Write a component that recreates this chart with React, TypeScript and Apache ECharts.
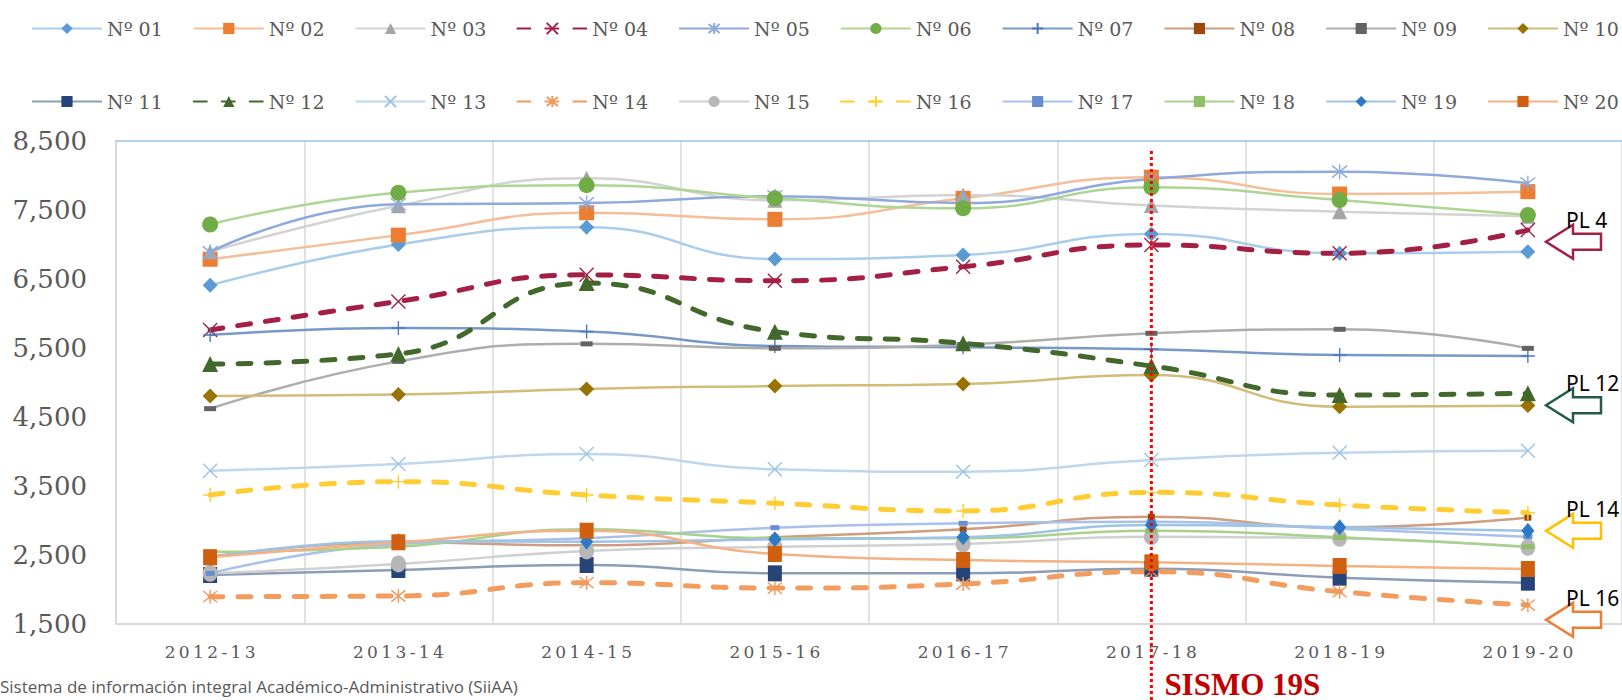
import React, { useEffect, useRef } from "react";
import * as echarts from "echarts";

const years = ["2012-13", "2013-14", "2014-15", "2015-16", "2016-17", "2017-18", "2018-19", "2019-20"];

const names = ["Nº 01", "Nº 02", "Nº 03", "Nº 04", "Nº 05", "Nº 06", "Nº 07", "Nº 08", "Nº 09", "Nº 10",
  "Nº 11", "Nº 12", "Nº 13", "Nº 14", "Nº 15", "Nº 16", "Nº 17", "Nº 18", "Nº 19", "Nº 20"];

const s01 = [6408, 7000, 7250, 6790, 6848, 7152, 6872, 6896];
const s02 = [6786, 7136, 7460, 7365, 7669, 7975, 7732, 7766];
const s03 = [6893, 7563, 7960, 7640, 7717, 7565, 7476, 7410];
const s04 = [5762, 6175, 6560, 6475, 6678, 6993, 6872, 7210];
const s05 = [6890, 7583, 7600, 7700, 7601, 7950, 8056, 7887];
const s06 = [7290, 7750, 7860, 7669, 7524, 7829, 7645, 7428];
const s07 = [5689, 5790, 5738, 5530, 5510, 5481, 5399, 5384];
const s08 = [2473, 2680, 2640, 2756, 2872, 3055, 2901, 3041];
const s09 = [4621, 5306, 5560, 5495, 5550, 5713, 5771, 5495];
const s10 = [4806, 4825, 4907, 4949, 4978, 5109, 4650, 4665];
const s11 = [2210, 2283, 2355, 2234, 2234, 2300, 2171, 2099];
const s12 = [5267, 5413, 6441, 5736, 5568, 5239, 4819, 4843];
const s13 = [3722, 3819, 3964, 3742, 3707, 3877, 3983, 4012];
const s14 = [1896, 1906, 2099, 2020, 2080, 2258, 1968, 1775];
const s15 = [2234, 2370, 2558, 2620, 2659, 2765, 2741, 2611];
const s16 = [3370, 3563, 3370, 3250, 3138, 3408, 3225, 3113];
const s17 = [2234, 2660, 2741, 2896, 2959, 2983, 2880, 2765];
const s18 = [2548, 2620, 2872, 2741, 2741, 2852, 2756, 2620];
const s19 = [2460, 2700, 2693, 2727, 2756, 2935, 2901, 2852];
const s20 = [2466, 2684, 2852, 2514, 2428, 2394, 2341, 2297];

const values = [s01, s02, s03, s04, s05, s06, s07, s08, s09, s10, s11, s12, s13, s14, s15, s16, s17, s18, s19, s20];

const yTicks = { min: 1500, max: 8500, interval: 1000 };

const quakeYear = "2017-18";
const quakeLabel = "SISMO 19S";
const sourceText = "Sistema de información integral Académico-Administrativo (SiiAA)";

const arrowLabels = ["PL 4", "PL 12", "PL 14", "PL 16"];
const arrowValues = [7040, 4670, 2850, 1560];
const arrowColors = ["#A31F44", "#245A4A", "#FFC000", "#ED7D31"];

const SERIF = "'DejaVu Serif', 'Liberation Serif', serif";

const X = "path://M0,0L10,10M10,0L0,10";
const STAR = "path://M1,1L9,9M9,1L1,9M5,0L5,10";
const PLUS = "path://M5,0L5,10M0,5L10,5";

const lineColors = ["#A9CDEB", "#F6BE98", "#D3D3D3", "#A31F44", "#8EA9DB", "#AFD595", "#7899C7", "#CF9E80", "#ADADAD", "#D2BC78",
  "#8C9DB8", "#43682B", "#BDD7EE", "#F29C5E", "#D0D0D0", "#FFCD33", "#A9C1EA", "#A9D18E", "#9DC3E6", "#F4B183"];
const markerColors = ["#5B9BD5", "#ED7D31", "#A5A5A5", "#A31F44", "#8FAADC", "#70AD47", "#4D79B9", "#9E480E", "#636363", "#997300",
  "#264478", "#43682B", "#9DC3E6", "#F1975A", "#B7B7B7", "#FFCD33", "#698ED0", "#8CC168", "#2F78C4", "#D0600F"];
const symbols = ["diamond", "rect", "triangle", X, STAR, "circle", PLUS, "rect", "rect", "diamond",
  "rect", "triangle", X, STAR, "circle", PLUS, "rect", "rect", "diamond", "rect"];
const symbolSizes: any[] = [15, 15, 15, 14, 15, 16, 14, [7, 6], [12, 5], 15,
  [14, 16], 16, 14, 14, [15, 17], 14, [9, 5], [12, 5], [13, 16], [14, 16]];
const dashed = [false, false, false, true, false, false, false, false, false, false,
  false, true, false, true, false, true, false, false, false, false];

export default function App() {
  const ref = useRef<HTMLDivElement>(null);
  useEffect(() => {
    const chart = echarts.init(ref.current!, null, { renderer: "svg" });
    const stroked = (s: string) => s === X || s === STAR || s === PLUS;
    const series = names.map((name, i) => ({
      name,
      type: "line",
      data: values[i],
      smooth: 0.5,
      symbol: symbols[i],
      symbolSize: symbolSizes[i],
      lineStyle: {
        color: lineColors[i],
        width: dashed[i] ? 5 : 2.5,
        type: dashed[i] ? [13, 15] : "solid",
        cap: dashed[i] ? "round" : "butt",
      },
      itemStyle: stroked(symbols[i])
        ? { color: markerColors[i], borderColor: markerColors[i], borderWidth: 1.4 }
        : { color: markerColors[i], borderWidth: 0 },
      emphasis: { disabled: true },
    }));
    const legendBase = {
      left: 31,
      padding: 0,
      itemWidth: 70,
      itemHeight: 14,
      itemGap: 30,
      selectedMode: false,
      textStyle: { fontFamily: SERIF, fontSize: 19, color: "#595959", width: 56, overflow: "none" },
    };
    chart.setOption({
      animation: false,
      backgroundColor: "#ffffff",
      legend: [
        { ...legendBase, top: 19, data: names.slice(0, 10) },
        { ...legendBase, top: 92, data: names.slice(10) },
      ],
      grid: { left: 116, right: 0, top: 141, bottom: 76 },
      xAxis: [
        {
          type: "category",
          data: years,
          boundaryGap: true,
          axisLine: { lineStyle: { color: "#D9D9D9", width: 2 } },
          axisTick: { show: false },
          splitLine: { show: true, lineStyle: { color: "#D9D9D9", width: 1.5 } },
          axisLabel: {
            formatter: (v: string) => v.split("").join("\u2009"),
            color: "#595959",
            fontFamily: SERIF,
            fontSize: 17,
            margin: 19,
          },
        },
        {
          type: "category",
          data: years,
          position: "top",
          axisLine: { lineStyle: { color: "#9DC3E6", width: 1.5 } },
          axisTick: { show: false },
          axisLabel: { show: false },
          splitLine: { show: false },
        },
      ],
      yAxis: {
        type: "value",
        min: yTicks.min,
        max: yTicks.max,
        interval: yTicks.interval,
        axisLine: { show: true, lineStyle: { color: "#D9D9D9", width: 2 } },
        axisTick: { show: false },
        splitLine: { show: false },
        axisLabel: {
          formatter: (v: number) => v.toLocaleString("en-US"),
          color: "#595959",
          fontFamily: SERIF,
          fontSize: 26,
          margin: 29,
        },
      },
      series,
    });

    const xs = years.map((y) => chart.convertToPixel({ xAxisIndex: 0 }, y) as number);
    const band = xs[1] - xs[0];
    const right = xs[xs.length - 1] + band / 2;
    const qx = chart.convertToPixel({ xAxisIndex: 0 }, quakeYear) as number;
    const topY = chart.convertToPixel({ yAxisIndex: 0 }, yTicks.max) as number;

    const graphics: any[] = [
      {
        type: "line",
        shape: { x1: qx, y1: topY + 10, x2: qx, y2: 700 },
        style: { stroke: "#FF0000", lineWidth: 3, lineDash: [3, 3] },
        z: 100,
      },
      {
        type: "text",
        x: qx + 13,
        y: 684,
        style: { text: quakeLabel, fill: "#C00000", fontFamily: "'Liberation Serif', serif", fontWeight: "bold", fontSize: 31, verticalAlign: "middle" },
        z: 100,
      },
      {
        type: "text",
        x: 0,
        y: 678,
        style: { text: sourceText, fill: "#595959", fontFamily: "'Open Sans', sans-serif", fontSize: 17, verticalAlign: "top" },
        z: 100,
      },
    ];
    arrowLabels.forEach((label, i) => {
      const ay = chart.convertToPixel({ yAxisIndex: 0 }, arrowValues[i]) as number;
      const tip = right - 76;
      graphics.push({
        type: "polygon",
        shape: {
          points: [
            [tip, ay],
            [tip + 27, ay - 17],
            [tip + 27, ay - 8],
            [tip + 55, ay - 8],
            [tip + 55, ay + 8],
            [tip + 27, ay + 8],
            [tip + 27, ay + 17],
          ],
        },
        style: { fill: "#ffffff", stroke: arrowColors[i], lineWidth: 2.5 },
        z: 100,
      });
      graphics.push({
        type: "text",
        x: right - 56,
        y: ay - 22,
        style: { text: label, fill: "#000000", fontFamily: "'Noto Sans', sans-serif", fontSize: 21, verticalAlign: "middle" },
        z: 101,
      });
    });
    chart.setOption({ graphic: graphics });

    return () => chart.dispose();
  }, []);
  return (
    <div
      ref={ref}
      style={{ position: "fixed", left: 0, top: 0, width: 1622, height: 700, background: "#ffffff" }}
    />
  );
}
